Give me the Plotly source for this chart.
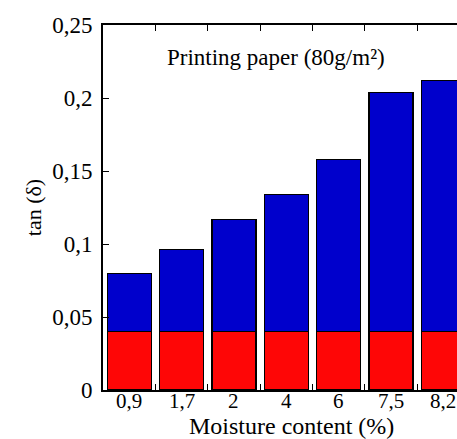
import plotly.graph_objects as go

categories = ["0,9", "1,7", "2", "4", "6", "7,5", "8,2"]
total_tan = [0.080, 0.096, 0.117, 0.134, 0.158, 0.204, 0.212]
red_part = [0.040, 0.040, 0.040, 0.040, 0.040, 0.040, 0.040]
blue_part = [t - r for t, r in zip(total_tan, red_part)]
y_tickvals = [0, 0.05, 0.1, 0.15, 0.2, 0.25]
y_ticktext = ["0", "0,05", "0,1", "0,15", "0,2", "0,25"]

FONT = "Liberation Serif"

fig = go.Figure()
fig.add_trace(go.Bar(x=categories, y=red_part, marker=dict(color="#FE0606", line=dict(color="black", width=1.2)), showlegend=False))
fig.add_trace(go.Bar(x=categories, y=blue_part, marker=dict(color="#0000CC", line=dict(color="black", width=1.2)), showlegend=False))

annotations = [dict(text="Printing paper (80g/m²)", x=(276 - 103) / (457 - 103), y=0.228,
                    xref="paper", yref="y", showarrow=False,
                    font=dict(size=23, family=FONT, color="black"))]
for i, c in enumerate(categories):
    annotations.append(dict(text=c, x=i, y=0, xref="x", yref="y", yanchor="top",
                            yshift=2, showarrow=False, borderpad=0,
                            font=dict(size=21, family=FONT, color="black")))
annotations.append(dict(text="Moisture content (%)", x=(291 - 103) / (457 - 103), y=0,
                        xref="paper", yref="paper", yanchor="bottom", yshift=-50,
                        showarrow=False, borderpad=0,
                        font=dict(size=24, family=FONT, color="black")))

fig.update_layout(
    barmode="stack",
    bargap=0.16,
    width=457, height=439,
    margin=dict(l=103, r=0, t=25, b=49),
    plot_bgcolor="white", paper_bgcolor="white",
    font=dict(family=FONT, color="black", size=21),
    annotations=annotations,
)
fig.update_xaxes(
    type="category", range=[-0.5, 6.26],
    showline=True, linecolor="black", linewidth=2, mirror="ticks",
    ticks="inside", ticklen=6, tickcolor="black", tickwidth=1.2, tickson="boundaries",
    showticklabels=False, showgrid=False,
)
fig.update_yaxes(
    range=[0, 0.25], tickvals=y_tickvals, ticktext=y_ticktext,
    showline=True, linecolor="black", linewidth=2,
    ticks="inside", ticklen=6, tickcolor="black", tickwidth=1.2,
    tickfont=dict(size=23, family=FONT), showgrid=False, zeroline=False, ticklabelstandoff=4,
    title=dict(text="tan (δ)", font=dict(size=22, family=FONT), standoff=4),
)
fig.write_html("out.html")
